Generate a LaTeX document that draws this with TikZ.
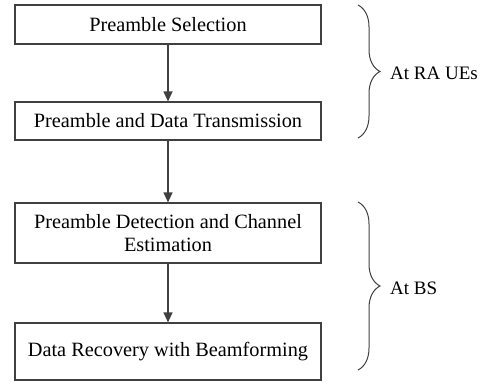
\documentclass[tikz,border=0pt]{standalone}
\usepackage{fontspec}
\setmainfont{Liberation Serif}
\usetikzlibrary{arrows.meta,decorations.pathreplacing}
\tikzset{
  stepbox/.style={draw=black!75,line width=1.2pt,minimum width=306pt,inner sep=0pt,align=center,
    font=\fontsize{20.3}{23}\selectfont},
  arr/.style={draw=black!75,line width=1.2pt,-{Triangle[length=10pt,width=9pt]}},
  curly/.style={draw=black!75,line width=1pt,decorate,decoration={brace,amplitude=22pt}},
  side/.style={anchor=west,inner sep=0pt,font=\fontsize{19}{22}\selectfont}
}
\begin{document}
\begin{tikzpicture}[x=1pt,y=-1pt]
  \useasboundingbox (0,0) rectangle (492,383);
  \node[stepbox,minimum height=39pt] (sel) at (168,24.5) {Preamble Selection};
  \node[stepbox,minimum height=38pt] (tx) at (168,121) {Preamble and Data Transmission};
  \node[stepbox,minimum height=60pt] (det) at (168,233) {Preamble Detection and Channel\\Estimation};
  \node[stepbox,minimum height=57pt] (rec) at (168,351.5) {Data Recovery with Beamforming};
  \draw[arr] (sel) -- (tx);
  \draw[arr] (tx) -- (det);
  \draw[arr] (det) -- (rec);
  % braces
  \coordinate (ue1) at (358,5);
  \coordinate (ue2) at (358,138);
  \coordinate (bs1) at (358,202);
  \coordinate (bs2) at (358,370);
  \draw[curly] (ue1) -- (ue2);
  \draw[curly] (bs1) -- (bs2);
  \node[side] (ue) at (390,73) {At RA UEs};
  \node[side] (bs) at (390,288) {At BS};
\end{tikzpicture}
\end{document}
